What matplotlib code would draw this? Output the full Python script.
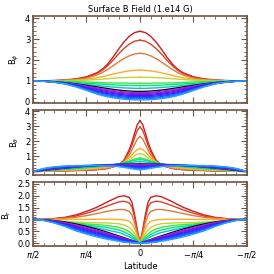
import numpy as np
import matplotlib
matplotlib.use('Agg')
import matplotlib.pyplot as plt
from matplotlib.ticker import AutoMinorLocator

# latitude nodes as fraction of pi/2 (curves are symmetric about the equator)
frac_top = [0, .05, .1, .15, .2, .25, .3, .35, .4, .5, .6, .7, .8, .9, 1.0]
frac = [0, .025, .05, .075, .1, .15, .2, .3, .4, .5, .6, .7, .8, .9, 1.0]

colors = ['#c81e1e', '#dc4028', '#e07a3a', '#ffaa28', '#c8d232', '#3ce63c',
          '#00e08c', '#00c8c0', 'black', '#a428c8', '#8c1ee0', '#7014f0',
          '#4c14ff', '#2a32ff', '#1456ff', '#1478ff', '#28a0ff']

# top panel: normalised field magnitude
b_top = [
    [3.37, 3.31, 3.13, 2.86, 2.52, 2.15, 1.82, 1.57, 1.4, 1.2, 1.1, 1.05, 1.02, 1.01, 1],
    [2.95, 2.9, 2.76, 2.55, 2.29, 2.0, 1.74, 1.52, 1.36, 1.17, 1.08, 1.04, 1.02, 1.01, 1],
    [2.32, 2.29, 2.2, 2.07, 1.91, 1.73, 1.56, 1.41, 1.29, 1.13, 1.06, 1.03, 1.01, 1.0, 1],
    [1.52, 1.51, 1.48, 1.44, 1.39, 1.33, 1.27, 1.21, 1.16, 1.08, 1.04, 1.02, 1.01, 1.0, 1],
    [1.18, 1.18, 1.17, 1.16, 1.15, 1.13, 1.11, 1.09, 1.07, 1.04, 1.02, 1.01, 1.0, 1.0, 1],
    [.89, .89, .89, .9, .9, .905, .91, .92, .93, .95, .97, .98, .99, 1.0, 1],
    [.78, .78, .79, .79, .8, .815, .83, .845, .86, .89, .93, .96, .98, .995, 1],
    [.65, .65, .66, .67, .69, .71, .73, .755, .78, .83, .88, .93, .97, .99, 1],
    [.5, .505, .518, .539, .567, .599, .636, .674, .714, .791, .861, .92, .964, .991, 1],
    [.45, .454, .467, .488, .516, .548, .587, .627, .671, .761, .843, .913, .961, .99, 1],
    [.4, .404, .416, .437, .465, .498, .537, .581, .628, .731, .826, .905, .958, .99, 1],
    [.35, .353, .365, .386, .414, .447, .488, .534, .585, .7, .808, .898, .955, .989, 1],
    [.3, .303, .314, .335, .364, .397, .438, .487, .542, .67, .79, .89, .952, .988, 1],
    [.25, .252, .263, .283, .313, .346, .389, .44, .499, .64, .773, .883, .949, .987, 1],
    [.2, .201, .212, .232, .262, .295, .339, .394, .456, .61, .755, .875, .946, .987, 1],
    [.15, .151, .161, .181, .211, .245, .29, .347, .413, .58, .738, .868, .943, .986, 1],
    [.1, .1, .11, .13, .16, .195, .24, .3, .37, .55, .72, .86, .94, .985, 1],
]

# middle panel: theta component
b_mid = [
    [3.37, 3.1, 2.55, 1.95, 1.45, .75, .42, .2, .12, .08, .06, .04, .03, .015, 0],
    [2.95, 2.72, 2.25, 1.74, 1.3, .7, .41, .21, .13, .09, .07, .05, .035, .018, 0],
    [2.32, 2.15, 1.8, 1.42, 1.1, .65, .4, .22, .15, .11, .08, .06, .04, .02, 0],
    [1.52, 1.45, 1.3, 1.1, .92, .62, .43, .27, .2, .15, .11, .08, .05, .025, 0],
    [1.18, 1.14, 1.04, .92, .8, .6, .46, .32, .25, .2, .15, .11, .07, .035, 0],
    [.89, .87, .82, .76, .69, .58, .49, .37, .3, .25, .19, .14, .09, .045, 0],
    [.78, .77, .74, .7, .65, .57, .5, .39, .33, .27, .21, .16, .1, .05, 0],
    [.65, .645, .63, .61, .59, .54, .49, .41, .35, .3, .24, .18, .12, .06, 0],
    [.5, .4996, .4985, .4965, .494, .486, .4755, .4455, .4045, .3535, .294, .227, .1545, .078, 0],
    [.453, .453, .455, .457, .459, .459, .456, .436, .404, .359, .306, .244, .174, .093, 0],
    [.405, .407, .411, .417, .423, .432, .437, .426, .403, .365, .318, .26, .193, .109, 0],
    [.358, .361, .368, .378, .388, .405, .417, .417, .403, .371, .33, .277, .213, .124, 0],
    [.31, .315, .324, .338, .352, .378, .398, .408, .402, .377, .342, .294, .232, .139, 0],
    [.263, .268, .28, .298, .317, .351, .378, .398, .401, .383, .354, .31, .252, .154, 0],
    [.215, .222, .237, .259, .281, .324, .358, .388, .401, .389, .366, .327, .271, .17, 0],
    [.168, .176, .193, .219, .246, .297, .339, .379, .4, .394, .378, .343, .291, .185, 0],
    [.12, .13, .15, .18, .21, .27, .32, .37, .4, .4, .39, .36, .31, .2, 0],
]

# bottom panel: radial component
b_bot = [
    [0, .55, 1.2, 1.72, 1.93, 2.0, 1.96, 1.75, 1.52, 1.34, 1.19, 1.09, 1.04, 1.01, 1],
    [0, .5, 1.08, 1.52, 1.7, 1.77, 1.74, 1.58, 1.41, 1.26, 1.14, 1.07, 1.03, 1.01, 1],
    [0, .4, .86, 1.18, 1.34, 1.42, 1.42, 1.35, 1.25, 1.16, 1.09, 1.05, 1.02, 1.0, 1],
    [0, .3, .62, .82, .92, .98, 1.0, 1.01, 1.01, 1.0, 1.0, 1.0, 1.0, 1.0, 1],
    [0, .2, .4, .55, .66, .77, .82, .85, .86, .87, .89, .92, .96, .99, 1],
    [0, .14, .28, .39, .48, .6, .67, .74, .78, .81, .85, .9, .95, .985, 1],
    [0, .1, .2, .29, .37, .48, .56, .65, .71, .76, .82, .88, .94, .985, 1],
    [0, .07, .14, .21, .27, .37, .45, .55, .64, .72, .8, .87, .935, .985, 1],
    [0, .039, .078, .118, .156, .233, .309, .454, .588, .707, .809, .891, .951, .988, 1],
    [0, .034, .069, .105, .139, .209, .28, .417, .547, .666, .773, .867, .938, .985, 1],
    [0, .03, .06, .091, .122, .185, .252, .381, .506, .625, .737, .843, .926, .981, 1],
    [0, .025, .051, .078, .105, .161, .223, .344, .465, .584, .701, .819, .913, .978, 1],
    [0, .021, .042, .064, .088, .137, .195, .307, .424, .544, .665, .796, .901, .974, 1],
    [0, .016, .032, .05, .071, .112, .166, .27, .383, .503, .628, .772, .888, .971, 1],
    [0, .011, .023, .037, .054, .088, .137, .234, .342, .462, .592, .748, .875, .967, 1],
    [0, .007, .014, .024, .037, .064, .109, .197, .301, .421, .556, .724, .863, .964, 1],
    [0, .002, .005, .01, .02, .04, .08, .16, .26, .38, .52, .7, .85, .96, 1],
]

ylabels = [r'B$_\phi$', r'B$_\theta$', r'B$_r$']
yticks = [[0, 1, 2, 3, 4], [0, 1, 2, 3, 4], [0.0, 0.5, 1.0, 1.5, 2.0, 2.5]]
ytick_labels = [['0', '1', '2', '3', '4'], ['0', '1', '2', '3', '4'],
                ['0.0', '0.5', '1.0', '1.5', '2.0', '2.5']]
ylims = [(-0.05, 4.1), (-0.2, 4.1), (-0.14, 2.58)]
xtick_labels = [r'$\pi$/2', r'$\pi$/4', '0', r'$-\pi$/4', r'$-\pi$/2']

frame = '#6e5444'
fig = plt.figure(figsize=(2.74, 2.74), dpi=100)
boxes = [[0.1204, 0.6241, 0.781, 0.3175],
         [0.1204, 0.3631, 0.781, 0.2372],
         [0.1204, 0.1004, 0.781, 0.2354]]

for p, data in enumerate([b_top, b_mid, b_bot]):
    ax = fig.add_axes(boxes[p])
    x = np.array(frac_top if p == 0 else frac) * np.pi / 2
    for c, vals in zip(colors, data):
        ax.plot(x, vals, color=c, lw=1.0)
        ax.plot(-x, vals, color=c, lw=1.0)
    ax.set_xlim(np.pi / 2, -np.pi / 2)
    ax.set_ylim(*ylims[p])
    ax.set_xticks([np.pi / 2, np.pi / 4, 0, -np.pi / 4, -np.pi / 2])
    ax.set_yticks(yticks[p])
    ax.set_yticklabels(ytick_labels[p])
    ax.xaxis.set_minor_locator(AutoMinorLocator(5))
    ax.yaxis.set_minor_locator(AutoMinorLocator(5))
    ax.tick_params(which='both', direction='in', top=True, right=True,
                   color=frame, labelsize=6, pad=2)
    ax.tick_params(which='major', length=4, width=0.8)
    ax.tick_params(which='minor', length=2, width=0.6)
    for s in ax.spines.values():
        s.set_color(frame)
        s.set_linewidth(1.2)
    ax.set_ylabel(ylabels[p], fontsize=6, labelpad=3)
    if p == 2:
        ax.set_xticklabels(xtick_labels)
        ax.set_xlabel('Latitude', fontsize=6, labelpad=1)
    else:
        ax.set_xticklabels([])
    if p == 0:
        ax.set_title('Surface B Field (1.e14 G)', fontsize=6, pad=3)

fig.savefig('out.png', dpi=100)
